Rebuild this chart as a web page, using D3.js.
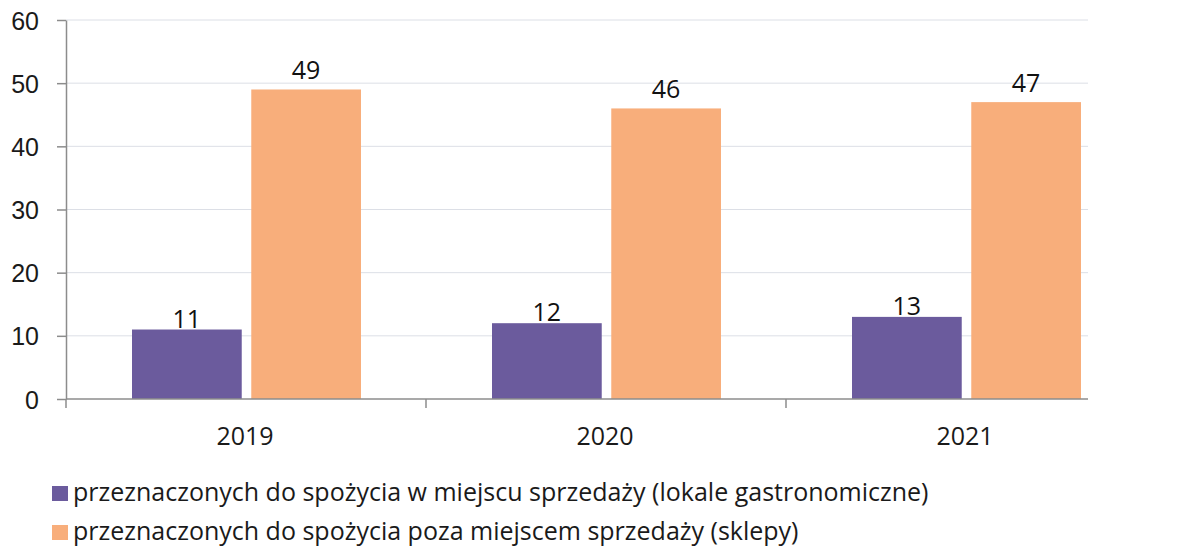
<!DOCTYPE html>
<html lang="pl">
<head>
  <meta charset="UTF-8" />
  <title>Lokale i sklepy 2019-2021</title>
  <script src="https://d3js.org/d3.v7.min.js"></script>
  <style>
    body { margin: 0; background: #ffffff; }
    svg { display: block; font-family: 'Open Sans', 'Noto Sans', sans-serif; }
    .grid line { stroke: #dcdfe6; stroke-width: 1; }
    .axis path, .axis line { stroke: #8c8c8c; stroke-width: 1.5; }
    .axis text { fill: #1a1a1a; font-size: 25px; }
    .value { fill: #111; font-size: 25px; text-anchor: middle; }
    .legend text { fill: #1a1a1a; font-size: 25px; }
  </style>
</head>
<body>
  <div id="chart"></div>
  <script>
    // --- Data ---
    const years = ["2019", "2020", "2021"];
    const seriesNames = [
      "przeznaczonych do spożycia w miejscu sprzedaży (lokale gastronomiczne)",
      "przeznaczonych do spożycia poza miejscem sprzedaży (sklepy)"
    ];
    const lokale = [11, 12, 13];
    const sklepy = [49, 46, 47];
    const yTicks = [0, 10, 20, 30, 40, 50, 60];
    const colors = ["#6b5b9d", "#f8ae7b"];

    const seriesValues = [lokale, sklepy];

    // --- Dimensions ---
    const W = 1198, H = 548;
    const plotLeft = 66, plotRight = 1088, plotTop = 20, plotBottom = 399;

    const svg = d3.select("#chart").append("svg")
      .attr("width", W).attr("height", H);

    // --- Scales ---
    const x0 = d3.scaleBand().domain(years).range([plotLeft, plotLeft + 3 * 360]);
    const x1 = d3.scaleBand().domain(d3.range(seriesNames.length))
      .range([66, 295]).paddingInner(0.08);
    const y = d3.scaleLinear().domain([0, 60]).range([plotBottom, plotTop]);

    // --- Gridlines ---
    svg.append("g").attr("class", "grid")
      .selectAll("line").data(yTicks.filter(d => d > 0)).join("line")
      .attr("x1", plotLeft).attr("x2", plotRight)
      .attr("y1", d => y(d)).attr("y2", d => y(d));

    // --- Y axis ---
    const yAxis = svg.append("g").attr("class", "axis")
      .attr("transform", `translate(${plotLeft},0)`)
      .call(d3.axisLeft(y).tickValues(yTicks).tickSize(9).tickPadding(18).tickSizeOuter(0));
    yAxis.selectAll("text").attr("dy", "0.36em");

    // --- Bars ---
    const groups = svg.selectAll(".year").data(years).join("g")
      .attr("class", "year")
      .attr("transform", d => `translate(${x0(d)},0)`);

    groups.selectAll("rect")
      .data((d, i) => seriesValues.map((vals, s) => ({ s, v: vals[i] })))
      .join("rect")
      .attr("x", d => x1(d.s))
      .attr("width", x1.bandwidth())
      .attr("y", d => y(d.v))
      .attr("height", d => y(0) - y(d.v))
      .attr("fill", d => colors[d.s]);

    // --- Value labels ---
    groups.selectAll("text.value")
      .data((d, i) => seriesValues.map((vals, s) => ({ s, v: vals[i] })))
      .join("text")
      .attr("class", "value")
      .attr("x", d => x1(d.s) + x1.bandwidth() / 2)
      .attr("y", d => y(d.v) - (d.s === 0 ? 2 : 10))
      .text(d => d.v);

    // --- X axis (line, category ticks and labels) ---
    const xAxis = svg.append("g").attr("class", "axis");
    xAxis.append("line")
      .attr("x1", plotLeft).attr("x2", plotRight)
      .attr("y1", plotBottom).attr("y2", plotBottom);
    xAxis.selectAll("line.tick").data(years).join("line")
      .attr("class", "tick")
      .attr("x1", d => x0(d)).attr("x2", d => x0(d))
      .attr("y1", plotBottom).attr("y2", plotBottom + 9);
    xAxis.selectAll("text").data(years).join("text")
      .attr("x", d => x0(d) + x0.bandwidth() / 2 - 1)
      .attr("y", plotBottom + 46)
      .attr("text-anchor", "middle")
      .text(d => d);

    // --- Legend ---
    const legend = svg.append("g").attr("class", "legend");
    const rows = legend.selectAll("g").data(seriesNames).join("g")
      .attr("transform", (d, i) => `translate(52, ${486 + i * 39})`);
    rows.append("rect")
      .attr("width", 16).attr("height", 15)
      .attr("fill", (d, i) => colors[i]);
    rows.append("text")
      .attr("x", 21).attr("y", 15)
      .text(d => d);
  </script>
</body>
</html>
